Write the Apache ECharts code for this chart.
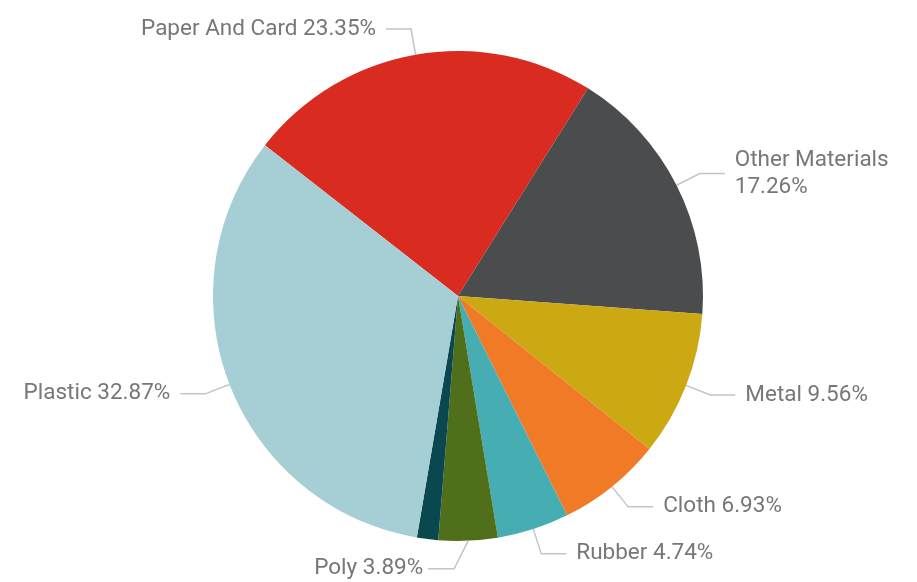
<!DOCTYPE html>
<html>
<head>
<meta charset="utf-8">
<script src="https://cdn.jsdelivr.net/npm/echarts@6/dist/echarts.min.js"></script>
<style>
  html, body { margin: 0; padding: 0; background: #fff; }
  #chart { width: 917px; height: 582px; }
</style>
</head>
<body>
<div id="chart"></div>
<script>
// 材料占比
const materials = ["Paper And Card", "Other Materials", "Metal", "Cloth", "Rubber", "Poly", "Glass", "Plastic"];
const shares = [23.35, 17.26, 9.56, 6.93, 4.74, 3.89, 1.4, 32.87];
const colors = ["#D92B20", "#4B4C4E", "#CCA813", "#F07A26", "#46AEB3", "#4F6F1A", "#0A4850", "#A6CFD5"];
const hiddenLabels = ["Glass"];
const leftLabels = ["Poly"];

const chart = echarts.init(document.getElementById("chart"));

const data = materials.map((name, i) => {
  const item = { name: name, value: shares[i], itemStyle: { color: colors[i] } };
  if (hiddenLabels.indexOf(name) >= 0) {
    item.label = { show: false };
    item.labelLine = { show: false };
  }
  if (name === "Other Materials") {
    item.label = { formatter: "{b}\n{c}%" };
  }
  return item;
});

const option = {
  animation: false,
  series: [
    {
      type: "pie",
      center: [458, 296],
      radius: 245,
      startAngle: 142,
      clockwise: true,
      avoidLabelOverlap: false,
      minShowLabelAngle: 0,
      data: data,
      label: {
        show: true,
        formatter: "{b} {c}%",
        color: "#777777",
        fontFamily: "Roboto",
        fontSize: 22.5,
        lineHeight: 27,
        padding: [0, 5]
      },
      labelLine: {
        show: true,
        length: 26,
        length2: 25,
        lineStyle: { color: "#C4C4C4", width: 1.5 }
      },
      // Poly 的标签放在左边
      labelLayout: function (params) {
        if (leftLabels.indexOf(materials[params.dataIndex]) < 0) {
          return {};
        }
        const p0 = params.labelLinePoints[0];
        const p1 = [p0[0] - 14, p0[1] + 28];
        const p2 = [p1[0] - 26, p1[1]];
        return {
          x: p2[0] - params.labelRect.width,
          y: p2[1],
          labelLinePoints: [p0, p1, p2]
        };
      },
      itemStyle: { borderWidth: 0 }
    }
  ]
};

chart.setOption(option);
</script>
</body>
</html>
